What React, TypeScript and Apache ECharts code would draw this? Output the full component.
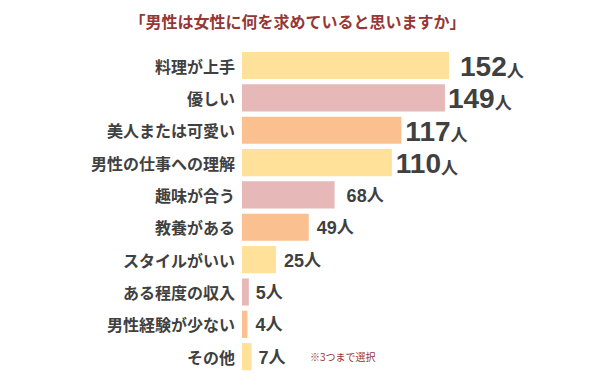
import React, { useEffect, useRef } from "react";
import * as echarts from "echarts";

const categories = [
  "料理が上手",
  "優しい",
  "美人または可愛い",
  "男性の仕事への理解",
  "趣味が合う",
  "教養がある",
  "スタイルがいい",
  "ある程度の収入",
  "男性経験が少ない",
  "その他",
];
const values = [152, 149, 117, 110, 68, 49, 25, 5, 4, 7];
const colors = ["#FFE199", "#E6B8B7", "#FAC08F"];
const labelGaps = [11, 3, 4, 4, 12, 8, 8, 7, 8, 7];
const titleText = "「男性は女性に何を求めていると思いますか」";
const noteText = "※3つまで選択";

export default function App() {
  const ref = useRef<HTMLDivElement>(null);
  useEffect(() => {
    document.body.style.margin = "0";
    if (!ref.current) return;
    const chart = echarts.init(ref.current, null, { renderer: "svg" });
    const data = values.map((v, i) => ({
      value: v,
      itemStyle: { color: colors[i % 3] },
      label: {
        distance: labelGaps[i],
        formatter: i < 4 ? "{b|{c}}{s|人}" : "{m|{c}}{s|人}",
      },
    }));
    chart.setOption({
      animation: false,
      title: {
        text: titleText,
        left: "center",
        top: 8,
        textStyle: {
          color: "#953735",
          fontSize: 16,
          fontWeight: "bold",
          fontFamily: "Noto Sans CJK JP",
        },
      },
      graphic: [
        {
          type: "text",
          left: 310,
          top: 351,
          style: {
            text: noteText,
            fill: "#953735",
            font: "10px 'Noto Sans CJK JP'",
          },
        },
      ],
      grid: { left: 242, top: 49.35, height: 323.5, right: 12.5 },
      xAxis: {
        type: "value",
        min: 0,
        max: 250,
        show: false,
      },
      yAxis: {
        type: "category",
        data: categories,
        inverse: true,
        axisLine: { show: false },
        axisTick: { show: false },
        axisLabel: {
          margin: 7,
          color: "#404040",
          fontSize: 16,
          fontWeight: "bold",
          fontFamily: "Noto Sans CJK JP",
        },
      },
      series: [
        {
          type: "bar",
          data,
          barCategoryGap: "16%",
          label: {
            show: true,
            position: "right",
            color: "#404040",
            rich: {
              b: {
                fontSize: 28,
                fontWeight: "bold",
                fontFamily: "Liberation Sans",
                color: "#404040",
                verticalAlign: "bottom",
                lineHeight: 30,
              },
              m: {
                fontSize: 18,
                fontWeight: "bold",
                fontFamily: "Liberation Sans",
                color: "#404040",
                verticalAlign: "bottom",
                lineHeight: 20,
              },
              s: {
                fontSize: 17,
                fontWeight: "bold",
                fontFamily: "Noto Sans CJK JP",
                color: "#404040",
                verticalAlign: "bottom",
                lineHeight: 20,
                padding: [0, 0, 3, 0],
              },
            },
          },
        },
      ],
    });
    return () => chart.dispose();
  }, []);
  return <div ref={ref} style={{ width: 595, height: 385 }} />;
}
